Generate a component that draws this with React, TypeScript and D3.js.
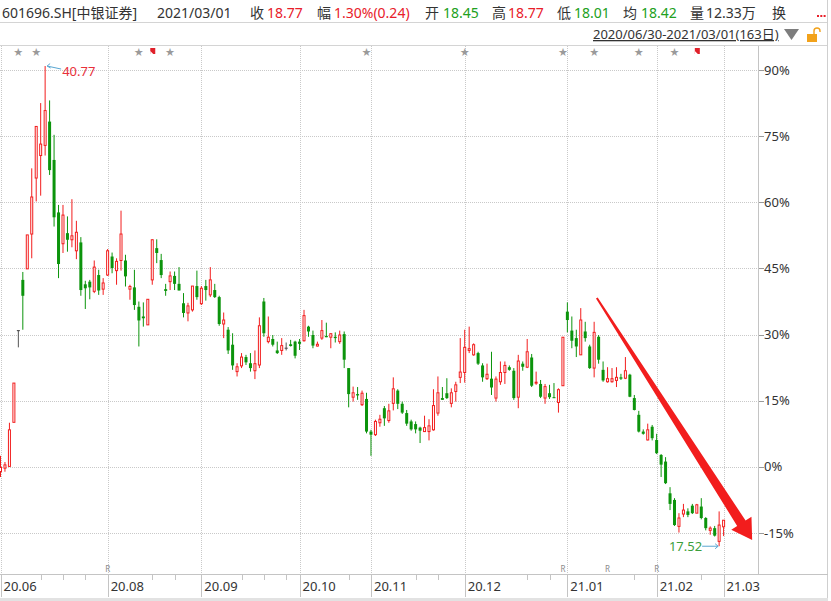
import React from 'react';
import * as d3 from 'd3';

// ---- data (percent change vs. base price) ----
const openPct = [
  -1.1, -0.3, 0.1, 10.1, 30.9, 42.4, 44.9, 52.8, 65.5, 70.6,
  72.9, 78.3, 69.6, 57.7, 50.6, 53.0, 51.5, 49.0, 50.9, 41.4,
  42.0, 39.8, 43.5, 40.3, 43.5, 47.7, 44.5, 46.8, 46.8, 40.3,
  40.7, 36.3, 34.1, 32.2, 42.4, 49.6, 46.9, 40.3, 42.0, 43.3,
  41.5, 37.1, 34.9, 35.6, 41.0, 37.0, 41.0, 39.0, 40.1, 38.5,
  32.4, 31.1, 27.7, 21.6, 22.9, 24.9, 23.5, 21.8, 23.1, 37.5,
  28.4, 29.0, 26.4, 26.4, 26.9, 27.8, 28.4, 28.4, 28.6, 31.8,
  29.9, 27.4, 29.2, 29.7, 29.4, 29.5, 28.4, 30.1, 22.4, 15.8,
  16.5, 14.1, 15.4, 8.0, 7.3, 10.0, 13.3, 10.5, 14.4, 17.3,
  14.3, 12.2, 10.3, 9.7, 8.9, 8.0, 8.0, 8.4, 12.2, 15.6,
  16.7, 14.4, 17.1, 20.3, 21.4, 26.4, 25.4, 25.8, 23.0, 20.0,
  20.0, 15.6, 19.3, 21.4, 22.6, 21.8, 15.8, 23.4, 22.6, 24.8,
  19.0, 18.8, 15.6, 16.7, 15.8, 14.6, 18.4, 35.2, 30.9, 29.2,
  25.4, 30.7, 27.3, 22.4, 29.5, 22.0, 19.3, 19.3, 19.6, 20.3,
  20.1, 20.9, 15.6, 11.8, 8.0, 6.1, 9.1, 6.1, 2.7, 1.2,
  -6.0, -7.5, -13.5, -10.7, -10.1, -8.8, -10.5, -9.0, -11.6, -14.4,
  -13.9, -16.9, -13.6,
];
const closePct = [
  -0.1, 0.45, 8.4, 19.0, 30.9, 38.8, 52.6, 61.2, 77.2, 73.2,
  80.8, 67.3, 56.6, 46.0, 57.1, 51.5, 52.4, 53.2, 40.1, 40.5,
  40.7, 45.3, 40.0, 41.7, 49.0, 45.1, 46.6, 52.8, 43.2, 40.9,
  36.7, 33.2, 33.7, 38.0, 51.5, 48.5, 43.5, 39.9, 43.3, 41.5,
  40.0, 34.9, 36.5, 41.0, 38.5, 40.5, 40.1, 42.4, 38.5, 32.4,
  33.3, 26.4, 23.0, 22.7, 24.9, 23.7, 22.4, 23.4, 32.0, 30.3,
  29.4, 27.7, 25.8, 27.5, 26.9, 27.4, 25.2, 27.9, 34.3, 30.7,
  27.5, 27.8, 30.9, 29.4, 30.2, 29.2, 29.9, 24.3, 16.5, 16.8,
  16.2, 16.7, 8.0, 7.3, 10.3, 10.8, 11.0, 12.7, 17.7, 14.3,
  12.3, 9.8, 8.5, 8.5, 8.2, 8.9, 9.3, 13.9, 16.8, 15.2,
  15.6, 16.8, 18.6, 21.5, 27.1, 26.8, 27.7, 23.4, 20.3, 21.0,
  18.0, 19.9, 21.4, 23.0, 22.0, 15.6, 24.0, 22.7, 26.1, 18.4,
  19.2, 15.9, 18.2, 15.8, 15.7, 17.5, 29.4, 33.3, 28.6, 27.3,
  33.3, 29.2, 22.4, 30.5, 24.3, 19.6, 20.0, 20.0, 20.3, 20.0,
  21.8, 15.9, 12.9, 8.0, 7.5, 8.4, 6.5, 3.1, 0.5, -3.7,
  -8.4, -13.2, -11.6, -9.8, -10.9, -10.5, -8.6, -11.6, -13.9, -13.9,
  -15.6, -13.2, -12.1,
];
const highPct = [
  2.5, 1.1, 10.0, 19.0, 30.9, 44.2, 52.6, 67.7, 77.2, 82.5,
  90.9, 83.1, 75.3, 59.4, 59.4, 56.8, 60.7, 55.8, 52.1, 42.2,
  42.4, 46.8, 44.7, 42.8, 49.4, 48.6, 47.3, 58.1, 48.1, 41.3,
  44.7, 37.5, 37.3, 38.0, 51.6, 51.6, 48.3, 41.5, 44.3, 44.3,
  45.3, 39.4, 37.2, 41.0, 44.5, 41.0, 42.4, 45.3, 41.5, 38.8,
  35.0, 31.7, 30.3, 23.5, 25.8, 25.4, 25.8, 26.4, 33.9, 38.3,
  34.1, 29.9, 28.4, 29.2, 28.2, 28.8, 28.6, 29.0, 35.6, 32.0,
  30.9, 28.4, 33.3, 32.7, 30.3, 30.5, 30.9, 30.7, 22.4, 18.2,
  18.1, 17.3, 16.8, 8.4, 10.7, 11.8, 13.8, 14.3, 20.3, 17.6,
  14.8, 12.9, 10.7, 10.3, 9.1, 11.6, 10.8, 17.6, 20.5, 18.1,
  20.1, 17.8, 19.3, 29.2, 31.1, 31.8, 28.0, 26.1, 23.5, 23.4,
  26.1, 20.5, 23.9, 23.9, 23.0, 22.4, 25.4, 23.9, 29.0, 25.6,
  21.6, 19.7, 18.8, 18.6, 19.0, 17.8, 29.4, 37.3, 34.1, 31.1,
  36.0, 32.9, 27.7, 32.9, 29.9, 23.9, 22.6, 22.4, 22.6, 21.1,
  24.9, 21.1, 16.3, 12.7, 8.5, 9.8, 9.5, 7.5, 2.9, 2.2,
  -4.6, -7.1, -10.5, -8.4, -9.4, -8.4, -8.4, -7.1, -11.4, -13.5,
  -13.4, -10.1, -12.1,
];
const lowPct = [
  -2.3, -1.1, 0.0, 10.1, 27.1, 31.1, 44.9, 47.3, 60.2, 61.5,
  70.6, 66.2, 54.5, 42.8, 48.5, 48.8, 49.8, 47.1, 38.8, 35.8,
  38.0, 39.4, 39.0, 39.0, 43.3, 43.9, 41.3, 44.5, 40.9, 37.9,
  35.6, 27.3, 31.8, 32.2, 41.3, 46.2, 42.8, 38.8, 40.1, 40.1,
  40.0, 33.9, 33.0, 35.2, 37.9, 36.7, 37.7, 38.5, 38.3, 32.0,
  29.2, 25.6, 22.0, 20.5, 22.4, 23.1, 21.6, 19.9, 22.4, 29.5,
  28.0, 27.3, 25.6, 25.4, 26.4, 27.3, 24.6, 26.5, 28.4, 29.5,
  26.9, 27.3, 28.8, 29.4, 26.9, 28.2, 27.9, 22.4, 13.5, 14.8,
  15.2, 13.8, 7.6, 2.5, 7.0, 9.1, 9.3, 10.0, 12.8, 13.1,
  12.0, 9.3, 8.2, 7.6, 5.4, 7.9, 6.0, 8.2, 11.6, 15.2,
  15.4, 13.5, 14.8, 19.0, 19.1, 25.8, 25.2, 23.1, 19.3, 19.7,
  16.3, 14.8, 18.6, 18.8, 21.8, 15.2, 13.3, 21.8, 22.4, 18.1,
  18.6, 15.6, 14.3, 15.4, 15.6, 12.3, 18.4, 30.5, 26.9, 24.9,
  25.4, 28.4, 22.2, 20.3, 23.4, 19.3, 19.1, 19.1, 18.1, 19.7,
  19.9, 15.8, 12.8, 7.8, 7.3, 6.0, 6.0, 2.9, -2.3, -3.9,
  -9.8, -13.4, -14.9, -11.4, -11.4, -10.7, -10.5, -11.9, -14.4, -15.4,
  -15.8, -18.0, -15.7,
];

const yTicks = [90, 75, 60, 45, 30, 15, 0, -15];
const monthLabels = ['20.06', '20.08', '20.09', '20.10', '20.11', '20.12', '21.01', '21.02', '21.03'];
const monthIdx = [0, 24, 45, 67, 83, 104, 127, 147, 162];
const minorIdx = [9, 14, 19, 34, 39, 54, 59, 64, 78, 93, 98, 118, 123, 142, 157];
const starIdx = [4, 8, 31, 38, 82, 104, 126, 133, 143, 151];
const flagIdx = [34, 156];
const rIdx = [24, 126, 136, 147];

const maxIdx = 10;
const maxText = '40.77';
const minIdx = 161;
const minText = '17.52';

// trend arrow, in (index, percent)
const arrowFrom = [133.6, 38.3];
const arrowTo = [168.4, -16.6];

const headerTitle = '601696.SH[中银证券]';
const headerDate = '2021/03/01';
const headerLabels = ['收', '幅', '开', '高', '低', '均', '量', '换'];
const headerValues = ['18.77', '1.30%(0.24)', '18.45', '18.77', '18.01', '18.42', '12.33万', ''];
const headerTones = ['up', 'up', 'down', 'up', 'down', 'down', 'flat', 'flat'];
const rangeText = '2020/06/30-2021/03/01(163日)';

const RED = '#f21d1d';
const GREEN = '#0c940c';
const TXT = '#333333';
const GRID = '#c9c9c9';
const FONT = "'Noto Sans','Noto Sans CJK SC',sans-serif";

export default function App() {
  const x = d3.scaleLinear().domain([0, 162]).range([0.5, 723.6]);
  const y = d3.scaleLinear().domain([-15, 90]).range([533, 70]);
  const px = (v: number) => Math.round(v) + 0.5;

  const labelX = [250, 317, 425, 492, 557, 623, 690, 772];
  const valueX = [267, 334, 443, 508, 574, 641, 706, 0];
  const toneColor = (t: string) => (t === 'up' ? '#e8202a' : t === 'down' ? '#21a021' : TXT);

  // arrow polygon
  const S = [x(arrowFrom[0]), y(arrowFrom[1])];
  const T = [x(arrowTo[0]), y(arrowTo[1])];
  const dx = T[0] - S[0], dy = T[1] - S[1];
  const L = Math.hypot(dx, dy);
  const u = [dx / L, dy / L];
  const p = [-u[1], u[0]];
  const headLen = 20, headHalf = 12, neckHalf = 5, tailHalf = 1;
  const N = [T[0] - u[0] * headLen, T[1] - u[1] * headLen];
  const pt = (b: number[], k: number) => `${b[0] + p[0] * k},${b[1] + p[1] * k}`;
  const arrowPts = [
    pt(S, tailHalf), pt(N, neckHalf), pt(N, headHalf), `${T[0]},${T[1]}`,
    pt(N, -headHalf), pt(N, -neckHalf), pt(S, -tailHalf),
  ].join(' ');

  const candles = d3.range(openPct.length).map((i) => {
    const o = openPct[i], c = closePct[i], h = highPct[i], l = lowPct[i];
    const cx = x(i);
    const color = c > o ? RED : c < o ? GREEN : '#555';
    const top = y(Math.max(o, c));
    const bot = y(Math.min(o, c));
    const bh = Math.max(bot - top, 0);
    return (
      <g key={i}>
        <line x1={cx} x2={cx} y1={y(h)} y2={y(l)} stroke={color} strokeWidth={1} />
        {c > o ? (
          <rect x={cx - 1} y={top} width={2} height={Math.max(bh, 1)} fill="#fff" stroke={color} strokeWidth={1} />
        ) : c < o ? (
          <rect x={cx - 1.5} y={top} width={3} height={Math.max(bh, 1)} fill={color} />
        ) : (
          <line x1={cx - 1.5} x2={cx + 1.5} y1={top} y2={top} stroke={color} strokeWidth={1.2} />
        )}
      </g>
    );
  });

  return (
    <svg width={831} height={601} style={{ position: 'absolute', left: 0, top: 0, background: '#fff' }} fontFamily={FONT}>
      <rect x={0} y={0} width={831} height={601} fill="#fff" />
      {/* header */}
      <text x={2} y={18} fontSize={14} fill={TXT}>{headerTitle}</text>
      <text x={157} y={18} fontSize={14} fill={TXT}>{headerDate}</text>
      {headerLabels.map((lab, k) => (
        <g key={lab + k}>
          <text x={labelX[k]} y={18} fontSize={14} fill={TXT}>{lab}</text>
          {headerValues[k] && (
            <text x={valueX[k]} y={18} fontSize={14} fill={toneColor(headerTones[k])}>{headerValues[k]}</text>
          )}
        </g>
      ))}
      {[0, 1, 2].map((k) => (
        <rect key={'dot' + k} x={817 + k * 3.3} y={15} width={2} height={2} fill="#e8202a" />
      ))}
      <line x1={0} x2={828} y1={22.5} y2={22.5} stroke="#d4d4d4" />
      <text x={593} y={39} fontSize={13} fill={TXT} textDecoration="underline">{rangeText}</text>
      <polygon points="784,29 799,29 791.5,40" fill="#7d7d7d" />
      <rect x={807} y={34} width={10} height={8} fill="#f2a21b" />
      <path d="M814,34 V31 a3,3 0 0 1 6,0 V32" fill="none" stroke="#f2a21b" strokeWidth={1.4} />
      <line x1={0} x2={828} y1={45.5} y2={45.5} stroke="#d4d4d4" />
      <line x1={827.5} x2={827.5} y1={0} y2={601} stroke="#cfcfcf" />

      {/* grid */}
      {yTicks.map((t) => (
        <line key={'h' + t} x1={0} x2={758} y1={px(y(t))} y2={px(y(t))} stroke={GRID} strokeDasharray="1,1" />
      ))}
      {monthIdx.map((m) => (
        <line key={'v' + m} x1={px(x(m))} x2={px(x(m))} y1={46} y2={574} stroke={GRID} strokeDasharray="1,1" />
      ))}

      {/* axes */}
      <line x1={758.5} x2={758.5} y1={46} y2={574} stroke="#c4c4c4" />
      <line x1={0} x2={828} y1={574.5} y2={574.5} stroke="#c4c4c4" />
      <rect x={0} y={598} width={828} height={3} fill="#e2e2e2" />
      {yTicks.map((t) => (
        <g key={'yl' + t}>
          <line x1={759} x2={764} y1={px(y(t))} y2={px(y(t))} stroke="#9a9a9a" />
          <text x={764} y={y(t) + 4.5} fontSize={13} fill={TXT}>{t}%</text>
        </g>
      ))}
      {monthIdx.map((m, k) => (
        <g key={'ml' + m}>
          <line x1={px(x(m))} x2={px(x(m))} y1={575} y2={597} stroke="#c4c4c4" />
          <text x={x(m) + 3} y={591} fontSize={13} fill={TXT}>{monthLabels[k]}</text>
        </g>
      ))}
      {minorIdx.map((m) => (
        <line key={'mi' + m} x1={px(x(m))} x2={px(x(m))} y1={575} y2={580} stroke="#c4c4c4" />
      ))}

      {/* markers */}
      {starIdx.map((s) => (
        <text key={'s' + s} x={x(s)} y={55} fontSize={9} fill="#9a9a9a" textAnchor="middle">★</text>
      ))}
      {flagIdx.map((f) => (
        <g key={'f' + f}>
          <rect x={x(f) - 2} y={48} width={5} height={6} fill="#e0202a" />
          <polygon points={`${x(f) - 2},51 ${x(f) - 2},54 ${x(f) + 1},54`} fill="#fff" />
        </g>
      ))}
      {rIdx.map((r) => (
        <text key={'r' + r} x={x(r)} y={572} fontSize={8} fill="#8a8a8a" textAnchor="middle">R</text>
      ))}

      {/* candles */}
      {candles}

      {/* max / min annotations */}
      <g>
        <line x1={x(maxIdx) + 2} y1={y(highPct[maxIdx])} x2={x(maxIdx) + 16} y2={y(highPct[maxIdx]) + 3} stroke="#5aa7d2" />
        <polyline points={`${x(maxIdx) + 5},${y(highPct[maxIdx]) - 2.5} ${x(maxIdx) + 2},${y(highPct[maxIdx])} ${x(maxIdx) + 5.5},${y(highPct[maxIdx]) + 2}`} fill="none" stroke="#5aa7d2" />
        <text x={x(maxIdx) + 17} y={y(highPct[maxIdx]) + 10} fontSize={13} fill="#e8303a">{maxText}</text>
      </g>
      <g>
        <line x1={x(minIdx) - 17} y1={y(lowPct[minIdx])} x2={x(minIdx) - 1} y2={y(lowPct[minIdx])} stroke="#5aa7d2" />
        <polyline points={`${x(minIdx) - 4},${y(lowPct[minIdx]) - 2.5} ${x(minIdx) - 1},${y(lowPct[minIdx])} ${x(minIdx) - 4},${y(lowPct[minIdx]) + 2.5}`} fill="none" stroke="#5aa7d2" />
        <text x={x(minIdx) - 17} y={y(lowPct[minIdx]) + 5} fontSize={13} fill="#3c9e3c" textAnchor="end">{minText}</text>
      </g>

      {/* trend arrow */}
      <polygon points={arrowPts} fill={RED} />
    </svg>
  );
}
